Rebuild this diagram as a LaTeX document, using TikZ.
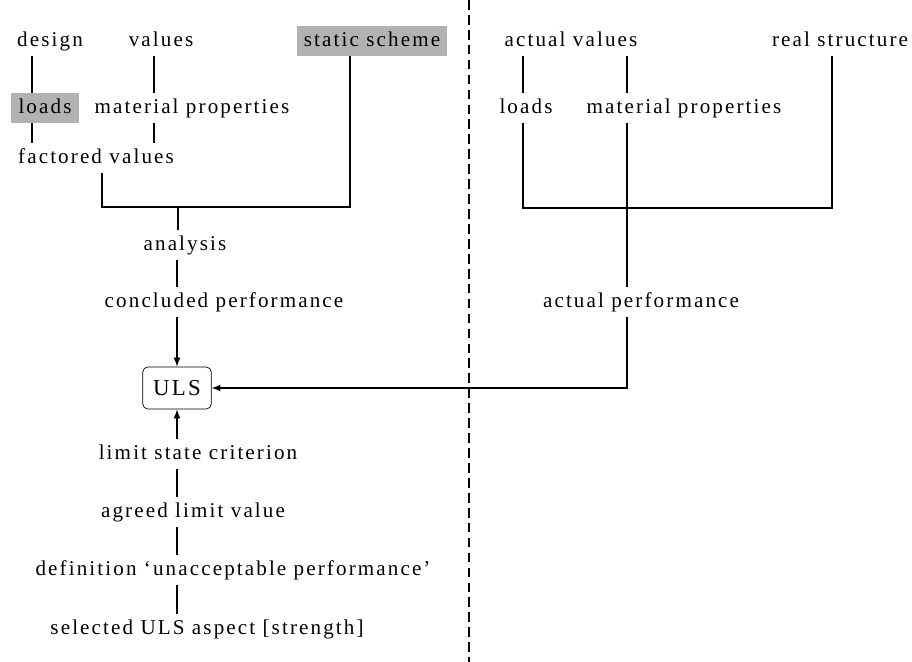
\documentclass[tikz,border=0pt]{standalone}
\usepackage{fontspec}
\setmainfont{Liberation Serif}[LetterSpace=10]
\usetikzlibrary{arrows}

\begin{document}
\begin{tikzpicture}[x=0.2mm,y=-0.2mm,
  txt/.style={inner xsep=0pt,inner ysep=3pt,text height=8.2pt,text depth=2.5pt,font=\fontsize{12}{14}\selectfont},
  hl/.style={txt,fill=black!30,inner xsep=4pt},
  lim/.style={draw,rounded corners=3pt,minimum width=39pt,minimum height=24pt,inner sep=0pt,font=\fontsize{13}{15}\selectfont},
  ln/.style={line width=0.75pt}]
                                \useasboundingbox (0,0) rectangle (912,662);
                                \node[txt] (dsg) at (50,41) {design};
                                \node[txt] (vals) at (161,41) {values};
                                \node[hl] (stat) at (372,41) {static scheme};
                                \node[hl] (lds) at (45,108) {loads};
                                \node[txt] (mat) at (192,108) {material properties};
                                \node[txt] (fac) at (96,158) {factored values};
                                \node[txt] (anl) at (185,245) {analysis};
                                \node[txt] (conc) at (224,302) {concluded performance};
                                \node[lim] (uls) at (177,388) {ULS};
                                \node[txt] (crit) at (198,454) {limit state criterion};
                                \node[txt] (agr) at (193,512) {agreed limit value};
                                \node[txt] (defn) at (233,570) {definition `unacceptable performance'};
                                \node[txt] (sel) at (207,629) {selected ULS aspect [strength]};

                                \node[txt] (av) at (571,41) {actual values};
                                \node[txt] (rs) at (840,41) {real structure};
                                \node[txt] (alds) at (526,108) {loads};
                                \node[txt] (amat) at (684,108) {material properties};
                                \node[txt] (aperf) at (641,302) {actual performance};

                                \coordinate (k1) at (32,0);
                                \coordinate (k2) at (154,0);
                                \coordinate (k3) at (102,0);
                                \coordinate (k4) at (350,0);
                                \coordinate (jl) at (178,207);
                                \coordinate (k6) at (523,0);
                                \coordinate (k7) at (627,0);
                                \coordinate (k8) at (832,0);
                                \coordinate (jr) at (627,208);
                                \coordinate (dtop) at (469,0);
                                \coordinate (dbot) at (469,662);

                                \draw[ln] (dsg.south -| k1) -- (lds.north -| k1);
                                \draw[ln] (lds.south -| k1) -- (fac.north -| k1);
                                \draw[ln] (vals.south -| k2) -- (mat.north -| k2);
                                \draw[ln] (mat.south -| k2) -- (fac.north -| k2);
                                \draw[ln] (fac.south -| k3) |- (jl) -| (stat.south -| k4);
                                \draw[ln] (jl) -- (anl.north -| jl);
                                \draw[ln] (anl.south -| uls) -- (conc.north -| uls);
                                \draw[ln,-latex] (conc.south -| uls) -- (uls.north);
                                \draw[ln,-latex] (crit.north -| uls) -- (uls.south);
                                \draw[ln] (crit.south -| uls) -- (agr.north -| uls);
                                \draw[ln] (agr.south -| uls) -- (defn.north -| uls);
                                \draw[ln] (defn.south -| uls) -- (sel.north -| uls);

                                \draw[ln] (av.south -| k6) -- (alds.north -| k6);
                                \draw[ln] (av.south -| k7) -- (amat.north -| k7);
                                \draw[ln] (alds.south -| k6) |- (jr) -| (rs.south -| k8);
                                \draw[ln] (amat.south -| k7) -- (aperf.north -| k7);
                                \draw[ln,-latex] (aperf.south -| k7) |- (uls.east);

                                \draw[line width=1pt,dash pattern=on 5.5pt off 3pt] (dtop) -- (dbot);
                            \end{tikzpicture}
\end{document}
